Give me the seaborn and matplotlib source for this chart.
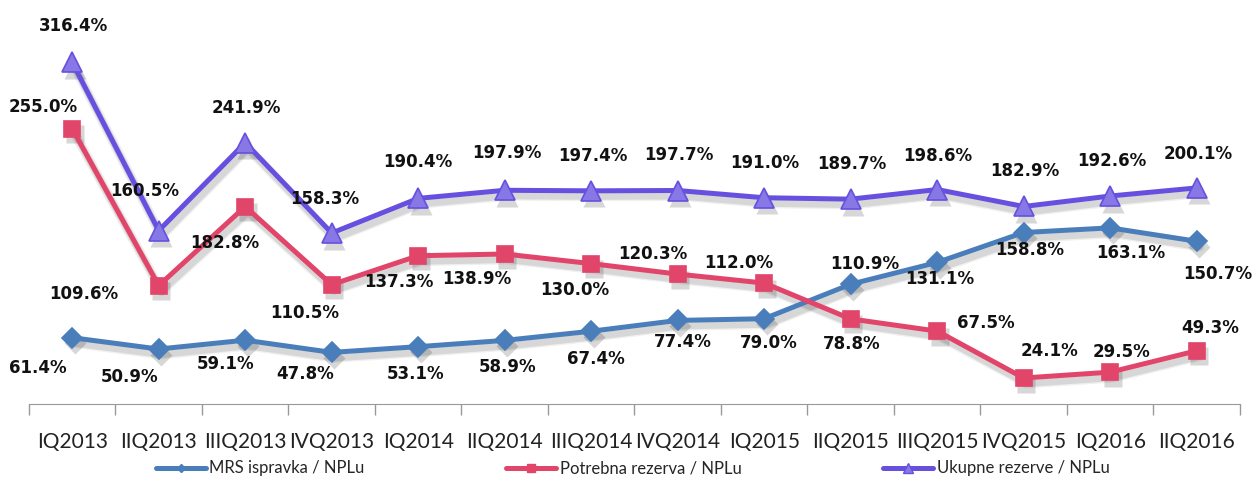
import matplotlib
matplotlib.use("Agg")
import matplotlib.pyplot as plt
import matplotlib.transforms as mtransforms
import seaborn as sns
import pandas as pd

quarters = ["IQ2013", "IIQ2013", "IIIQ2013", "IVQ2013", "IQ2014", "IIQ2014", "IIIQ2014",
            "IVQ2014", "IQ2015", "IIQ2015", "IIIQ2015", "IVQ2015", "IQ2016", "IIQ2016"]
mrs = [61.4, 50.9, 59.1, 47.8, 53.1, 58.9, 67.4, 77.4, 79.0, 110.9, 131.1, 158.8, 163.1, 150.7]
potrebna = [255.0, 109.6, 182.8, 110.5, 137.3, 138.9, 130.0, 120.3, 112.0, 78.8, 67.5, 24.1, 29.5, 49.3]
ukupne = [316.4, 160.5, 241.9, 158.3, 190.4, 197.9, 197.4, 197.7, 191.0, 189.7, 198.6, 182.9, 192.6, 200.1]

names = ["MRS ispravka / NPLu", "Potrebna rezerva / NPLu", "Ukupne rezerve / NPLu"]

# label offsets in pixels (dx, dy with y up)
off_mrs = [(-34, -30), (-29, -28), (-20, -24), (-27, -22), (-3, -27), (3, -27), (5, -28),
           (5, -22), (5, -24), (14, 20), (3, -17), (6, -17), (21, -25), (21, -33)]
off_pot = [(-29, 22), (-75, -8), (-20, -36), (-27, -28), (-19, -26), (-28, -25), (-16, -26),
           (-25, 20), (-25, 20), (1, -25), (49, 8), (26, 27), (11, 20), (13, 23)]
off_uku = [(1, 36), (-14, 40), (1, 35), (-7, 34), (0, 36), (2, 37), (2, 35),
           (1, 35), (1, 35), (1, 35), (1, 34), (1, 35), (2, 35), (1, 34)]

df = pd.DataFrame({"x": list(range(len(quarters))) * 3,
                   "value": mrs + potrebna + ukupne,
                   "series": [names[0]] * 14 + [names[1]] * 14 + [names[2]] * 14})

sns.set_style("white")
plt.rcParams["font.family"] = ["Lato", "DejaVu Sans"]

fig = plt.figure(figsize=(12.53, 4.8), dpi=100)
ax = fig.add_axes([0.0231, 0.1583, 0.9665, 0.7875])

styles = {
    names[0]: dict(color="#4A7EBB", marker="D", ms=10, mfc="#4A7EBB", mec="#4A7EBB"),
    names[1]: dict(color="#E2456A", marker="s", ms=12, mfc="#E2456A", mec="#E2456A"),
    names[2]: dict(color="#6650E0", marker="^", ms=15, mfc="#8878E6", mec="#6650E0"),
}

# soft drop shadow, drawn first
shift = mtransforms.ScaledTranslation(2 / 72, -4 / 72, fig.dpi_scale_trans)
for vals, n in zip([mrs, potrebna, ukupne], names):
    st = styles[n]
    for lw, a in [(7, 0.06), (5, 0.1)]:
        ax.plot(range(len(vals)), vals, color="black", alpha=a, lw=lw, marker=st["marker"],
                ms=st["ms"] + 1, mfc="black", mec="none", transform=ax.transData + shift, zorder=1)

sns.lineplot(data=df, x="x", y="value", hue="series", palette=[styles[n]["color"] for n in names],
             ax=ax, linewidth=3.6, legend=False, zorder=3)
for line, n in zip(ax.lines[-3:], names):
    st = styles[n]
    line.set_marker(st["marker"])
    line.set_markersize(st["ms"])
    line.set_markerfacecolor(st["mfc"])
    line.set_markeredgecolor(st["mec"])
    line.set_markeredgewidth(1.2)

for vals, offs in [(mrs, off_mrs), (potrebna, off_pot), (ukupne, off_uku)]:
    for i, (v, o) in enumerate(zip(vals, offs)):
        ax.annotate(f"{v:.1f}%", (i, v), textcoords="offset pixels", xytext=o,
                    ha="center", va="center", fontsize=12, fontweight="bold",
                    family=["DejaVu Sans"], color="#111111", zorder=5)

ax.set_xlim(-0.5, 13.5)
ax.set_ylim(0, 350)
ax.set_yticks([])
ax.set_xticks([i - 0.5 for i in range(15)], minor=False)
ax.set_xticklabels([])
ax.set_xticks(range(14), minor=True)
ax.set_xticklabels(quarters, minor=True, fontsize=15, color="#222222")
ax.tick_params(axis="x", which="major", length=8, color="#999999", width=1, direction="out", bottom=True)
ax.tick_params(axis="x", which="minor", length=0, pad=20)
for s in ["top", "right", "left"]:
    ax.spines[s].set_visible(False)
ax.spines["bottom"].set_color("#999999")
ax.set_xlabel("")
ax.set_ylabel("")

handles = []
for n in names:
    st = styles[n]
    h, = ax.plot([], [], color=st["color"], lw=3.6, marker=st["marker"], ms=st["ms"] * 0.45,
                 mfc=st["mfc"], mec=st["mec"], label=n)
    handles.append(h)
fig.legend(handles=handles, loc="center", bbox_to_anchor=(0.505, 0.024), ncol=3, frameon=False,
           fontsize=12, columnspacing=8.5, handlelength=3.0, handletextpad=0.2)

fig.savefig("out.png", dpi=100)
